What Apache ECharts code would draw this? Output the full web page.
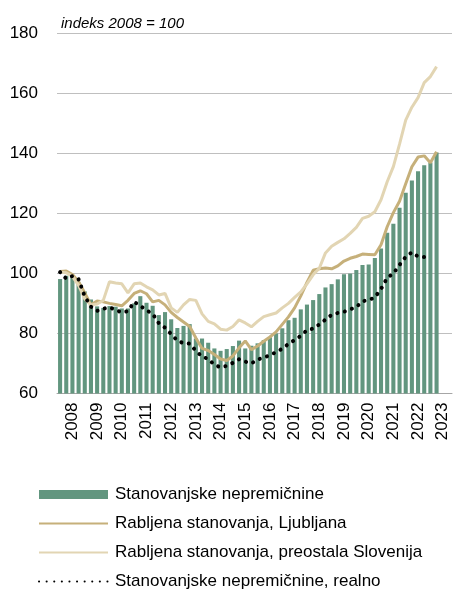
<!DOCTYPE html>
<html>
<head>
<meta charset="utf-8">
<script src="https://cdn.jsdelivr.net/npm/echarts@6/dist/echarts.min.js"></script>
<style>
  html, body { margin: 0; padding: 0; background: #fff; }
  #chart { width: 453px; height: 597px; }
</style>
</head>
<body>
<div id="chart"></div>
<script>
// leta na osi (četrtletja 2008Q1 - 2023Q4)
const years = ['2008', '2009', '2010', '2011', '2012', '2013', '2014', '2015',
  '2016', '2017', '2018', '2019', '2020', '2021', '2022', '2023']
const quarters = ['Q1', 'Q2', 'Q3', 'Q4']

// Stanovanjske nepremičnine (stolpci)
const nepremicnine = [
  98.1, 99.2, 99.4, 97.0, 94.0, 91.3, 89.0, 88.5,
  89.1, 88.9, 88.3, 88.3, 90.0, 92.4, 90.2, 89.2,
  86.1, 87.1, 84.7, 81.8, 82.5, 83.1, 78.3, 78.3,
  76.9, 75.0, 74.2, 74.8, 75.8, 77.6, 75.0, 75.9,
  76.7, 77.8, 78.7, 80.0, 81.7, 84.4, 85.2, 88.0,
  89.6, 91.1, 93.1, 95.3, 96.4, 98.0, 99.7, 99.9,
  101.1, 102.8, 102.9, 105.1, 108.3, 113.5, 116.5, 121.8,
  126.8, 130.9, 134.0, 136.0, 136.9, 140.2
]
// Rabljena stanovanja, Ljubljana
const ljubljana = [
  100.6, 100.8, 99.6, 97.2, 93.5, 89.5, 90.8, 90.5,
  90.0, 89.6, 89.2, 91.0, 93.3, 94.2, 93.2, 90.5,
  91.0, 89.5, 87.0, 85.3, 83.8, 82.3, 78.5, 75.0,
  74.3, 73.0, 71.5, 71.0, 72.5, 75.2, 77.5, 74.6,
  75.8, 77.4, 78.8, 80.5, 83.0, 85.5, 88.5, 92.5,
  97.0, 101.0, 101.5, 101.8, 101.5, 102.5, 104.1, 105.0,
  105.6, 106.4, 106.3, 106.2, 109.5, 115.5, 120.2, 124.0,
  129.8, 135.5, 138.7, 139.1, 136.8, 140.5
]
// Rabljena stanovanja, preostala Slovenija
const slovenija = [
  100.4, 100.2, 99.0, 96.0, 91.5, 89.5, 89.8, 91.0,
  97.2, 96.8, 96.5, 93.5, 96.5, 96.8, 95.5, 94.5,
  92.8, 93.3, 88.5, 87.0, 89.5, 91.3, 91.0, 86.5,
  84.0, 83.2, 81.4, 81.1, 82.3, 84.5, 83.5, 82.2,
  84.0, 85.6, 86.2, 86.8, 88.5, 90.0, 92.0, 93.8,
  96.5, 99.5, 101.7, 106.8, 109.0, 110.3, 111.5, 113.3,
  115.3, 118.3, 119.0, 120.5, 124.5, 130.5, 135.5, 143.0,
  151.0, 155.3, 158.5, 163.5, 165.5, 168.8
]
// Stanovanjske nepremičnine, realno
const realno = [
  100.4, 98.2, 99.1, 98.0, 92.3, 88.9, 87.5, 88.2,
  88.7, 87.8, 87.0, 87.4, 90.5, 89.2, 87.7, 86.5,
  83.4, 81.9, 79.8, 77.6, 76.7, 76.6, 74.2, 72.3,
  71.5, 69.6, 68.7, 69.2, 70.2, 71.4, 70.6, 70.0,
  71.3, 72.0, 72.7, 73.8, 74.9, 76.5, 77.8, 79.2,
  81.1, 81.6, 83.0, 84.6, 86.2, 86.8, 87.2, 88.0,
  88.8, 90.7, 91.1, 92.0, 94.8, 98.5, 99.9, 102.8,
  105.5, 107.0, 105.6, 105.4, 106.0
]

const categories = []
years.forEach((y) => quarters.forEach((q) => categories.push(y + q)))

const font = 'Liberation Sans, Arial, sans-serif'
const myChart = echarts.init(document.getElementById('chart'))

// linijske serije v legendi brez kroga na sredini
const noSymbol = { opacity: 0 }

const option = {
  animation: false,
  textStyle: { fontFamily: font },
  title: {
    text: 'indeks 2008 = 100',
    left: 56,
    top: 11,
    textStyle: { fontSize: 15, fontStyle: 'italic', fontWeight: 'normal', color: '#000' }
  },
  grid: { left: 57, right: 1, top: 33, bottom: 203.5 },
  legend: {
    orient: 'vertical',
    left: 38,
    top: 486,
    padding: 0,
    itemWidth: 69,
    itemHeight: 9,
    itemGap: 12,
    textStyle: { fontSize: 17, color: '#000', padding: [0, 0, 0, 2] },
    data: [
      { name: 'Stanovanjske nepremičnine', icon: 'rect' },
      { name: 'Rabljena stanovanja, Ljubljana', itemStyle: noSymbol },
      { name: 'Rabljena stanovanja, preostala Slovenija', itemStyle: noSymbol },
      { name: 'Stanovanjske nepremičnine, realno', itemStyle: noSymbol }
    ]
  },
  xAxis: {
    type: 'category',
    data: categories,
    axisTick: { show: false },
    axisLine: { lineStyle: { color: '#A6A6A6', width: 1 } },
    axisLabel: {
      rotate: 90,
      fontSize: 17,
      color: '#000',
      margin: 9,
      interval: (i) => i % 4 === 2,
      formatter: (v) => v.slice(0, 4)
    }
  },
  yAxis: {
    type: 'value',
    min: 60,
    max: 180,
    interval: 20,
    axisLabel: { fontSize: 17, color: '#000', margin: 19 },
    splitLine: { lineStyle: { color: '#BFBFBF', width: 1 } }
  },
  series: [
    {
      name: 'Stanovanjske nepremičnine',
      type: 'bar',
      data: nepremicnine,
      barCategoryGap: '34%',
      itemStyle: { color: '#62967F' }
    },
    {
      name: 'Rabljena stanovanja, Ljubljana',
      type: 'line',
      data: ljubljana,
      symbol: 'none',
      color: '#C6B07A',
      lineStyle: { color: '#C6B07A', width: 3 }
    },
    {
      name: 'Rabljena stanovanja, preostala Slovenija',
      type: 'line',
      data: slovenija,
      symbol: 'none',
      color: '#E2D5B3',
      lineStyle: { color: '#E2D5B3', width: 3 }
    },
    {
      name: 'Stanovanjske nepremičnine, realno',
      type: 'line',
      data: realno,
      symbol: 'none',
      color: '#000',
      z: 5,
      lineStyle: { color: '#000', width: 4, type: [0.1, 7.5], cap: 'round' }
    }
  ]
}
myChart.setOption(option)
</script>
</body>
</html>
